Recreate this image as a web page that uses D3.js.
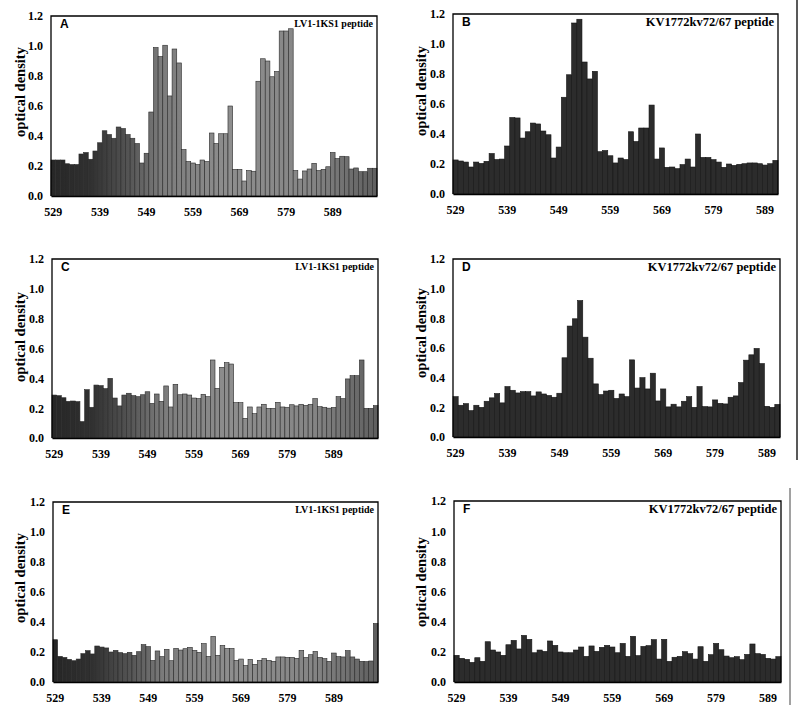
<!DOCTYPE html>
<html><head><meta charset="utf-8">
<script src="https://cdn.jsdelivr.net/npm/d3@7"></script>
<style>
html,body{margin:0;padding:0;background:#fff;}
svg{display:block;}
</style></head>
<body>
<svg id="chart" width="800" height="719"></svg>
<script>
// ---------------- data ----------------
const residuesLV = d3.range(529, 599);   // 70 peptides
const residuesKV = d3.range(529, 592);   // 63 peptides
const xTickLabels = [529, 539, 549, 559, 569, 579, 589];
const yTickValues = [0, 0.2, 0.4, 0.6, 0.8, 1.0, 1.2];

const valuesA = [0.24,0.24,0.24,0.215,0.21,0.21,0.28,0.29,0.245,0.30,
 0.355,0.435,0.41,0.385,0.46,0.45,0.41,0.385,0.35,0.22,
 0.285,0.56,0.99,0.93,1.005,0.667,0.98,0.887,0.31,0.23,
 0.22,0.21,0.24,0.23,0.42,0.35,0.415,0.415,0.60,0.178,
 0.178,0.10,0.17,0.165,0.765,0.915,0.90,0.795,0.83,1.10,
 1.10,1.115,0.17,0.113,0.167,0.18,0.218,0.17,0.178,0.195,
 0.29,0.25,0.265,0.262,0.18,0.187,0.162,0.162,0.185,0.185];

const valuesB = [0.227,0.22,0.213,0.18,0.213,0.204,0.218,0.27,0.23,0.233,
 0.32,0.51,0.507,0.373,0.415,0.473,0.467,0.42,0.395,0.24,
 0.313,0.645,0.795,1.14,1.165,0.88,0.767,0.818,0.282,
 0.29,0.255,0.207,0.24,0.23,0.415,0.35,0.44,0.44,0.593,0.233,0.307,0.178,0.18,0.169,0.196,0.233,0.18,0.40,
 0.244,0.244,0.229,0.213,0.178,0.20,0.191,0.198,0.202,0.207,0.207,0.202,0.193,0.202,0.224];

const valuesC = [0.288,0.284,0.27,0.246,0.248,0.244,0.11,0.324,0.206,0.355,
 0.351,0.331,0.40,0.268,0.215,0.288,0.30,0.284,0.277,0.29,
 0.31,0.232,0.295,0.246,0.349,0.208,0.36,0.29,0.295,0.288,
 0.268,0.264,0.293,0.277,0.523,
 0.333,0.474,0.505,0.496,0.237,0.237,0.132,0.208,0.163,0.208,0.226,0.199,0.199,0.239,0.208,0.206,0.223,0.215,0.226,0.219,
 0.226,0.264,0.21,0.206,0.20,0.205,0.277,0.264,0.396,0.418,0.418,0.523,0.199,0.199,0.217];

const valuesD = [0.272,0.214,0.225,0.178,0.214,0.20,0.241,0.264,0.293,0.23,
 0.34,0.315,0.297,0.306,0.306,0.277,0.304,0.29,0.28,0.268,
 0.295,0.534,0.748,0.797,0.92,0.673,0.531,0.358,0.286,
 0.31,0.315,0.26,0.29,0.272,0.52,0.33,0.40,0.324,0.43,0.243,0.324,0.203,0.221,0.203,0.241,0.272,0.20,0.34,
 0.205,0.203,0.25,0.227,0.223,0.268,0.277,0.367,0.518,0.554,0.597,0.495,0.207,0.20,0.22];

const valuesE = [0.282,0.171,0.164,0.151,0.142,0.153,0.189,0.209,0.187,0.24,
 0.233,0.227,0.20,0.211,0.196,0.189,0.198,0.178,0.202,0.249,
 0.236,0.144,0.207,0.169,0.218,0.142,0.224,0.213,0.222,0.231,
 0.211,0.198,0.256,0.171,0.304,
 0.178,0.244,0.224,0.224,0.144,0.153,0.11,0.151,0.118,0.144,0.156,0.144,0.138,0.167,0.167,0.164,0.164,0.158,
 0.211,0.164,0.182,0.204,0.164,0.156,0.138,0.193,0.169,0.167,0.209,0.167,0.153,0.138,0.136,0.14,0.39];

const valuesF = [0.177,0.157,0.15,0.13,0.161,0.137,0.267,0.212,0.199,0.177,
 0.247,0.276,0.219,0.309,0.283,0.194,0.212,0.203,0.272,0.243,
 0.199,0.194,0.194,0.212,0.232,0.17,0.239,0.203,0.23,
 0.243,0.232,0.194,0.256,0.17,0.303,0.175,0.236,0.241,0.281,0.152,0.283,0.137,0.164,0.17,0.201,0.188,0.152,0.234,
 0.137,0.181,0.256,0.214,0.172,0.161,0.168,0.148,0.183,0.252,0.188,0.183,0.157,0.152,0.168];

const titleLV = "LV1-1KS1  peptide";
const titleKV = "KV1772kv72/67  peptide";

// ---------------- layout ----------------
const panels = [
  {letter:"A", residues:residuesLV, values:valuesA, title:titleLV, kind:"LV", x0:51,  x1:377, yt:16,  yb:196, labY:92},
  {letter:"B", residues:residuesKV, values:valuesB, title:titleKV, kind:"KV", x0:453, x1:778, yt:14,  yb:194, labY:91},
  {letter:"C", residues:residuesLV, values:valuesC, title:titleLV, kind:"LV", x0:52,  x1:378, yt:259, yb:438, labY:337},
  {letter:"D", residues:residuesKV, values:valuesD, title:titleKV, kind:"KV", x0:453, x1:780, yt:259, yb:437, labY:333},
  {letter:"E", residues:residuesLV, values:valuesE, title:titleLV, kind:"LV", x0:53,  x1:378, yt:502, yb:682, labY:578},
  {letter:"F", residues:residuesKV, values:valuesF, title:titleKV, kind:"KV", x0:454, x1:781, yt:501, yb:682, labY:582}
];

const svg = d3.select("#chart");
const defs = svg.append("defs");
const serif = "'Liberation Serif','Times New Roman',serif";
const sans = "'Liberation Sans',Arial,sans-serif";

panels.forEach((p, i) => {
  const x = d3.scaleBand().domain(p.residues).range([p.x0, p.x1]).padding(0);
  const y = d3.scaleLinear().domain([0, 1.2]).range([p.yb, p.yt]);
  const g = svg.append("g");

  let fill = "#2c2c2c", stroke = "#141414";
  if (p.kind === "LV") {
    const gid = "grad" + i;
    const gr = defs.append("linearGradient").attr("id", gid)
      .attr("gradientUnits", "userSpaceOnUse")
      .attr("x1", p.x0).attr("x2", p.x1).attr("y1", 0).attr("y2", 0);
    [[0,"#262626"],[0.12,"#303030"],[0.24,"#555"],[0.34,"#7c7c7c"],[0.55,"#8e8e8e"],[0.8,"#858585"],[1,"#5e5e5e"]]
      .forEach(s => gr.append("stop").attr("offset", s[0]).attr("stop-color", s[1]));
    fill = `url(#${gid})`;
    stroke = "#2a2a2a";
  }

  // bars
  g.selectAll("rect.bar").data(p.values.map((v, k) => ({r: p.residues[k], v})))
    .join("rect").attr("class", "bar")
    .attr("x", d => x(d.r))
    .attr("width", x.bandwidth())
    .attr("y", d => y(d.v))
    .attr("height", d => y(0) - y(d.v))
    .attr("fill", fill)
    .attr("stroke", stroke)
    .attr("stroke-width", 0.6);

  // frame (left, top, right)
  g.append("path")
    .attr("d", `M${p.x0},${p.yb}V${p.yt}H${p.x1}V${p.yb}`)
    .attr("fill", "none").attr("stroke", "#000").attr("stroke-width", 1.3);

  // y axis
  const ya = g.append("g").attr("transform", `translate(${p.x0},0)`)
    .call(d3.axisLeft(y).tickValues(yTickValues).tickFormat(d3.format(".1f")).tickSize(0).tickPadding(8));
  ya.select(".domain").remove();
  ya.selectAll("text").attr("font-family", serif).attr("font-weight", "bold").attr("font-size", 12).attr("fill", "#000");

  // x axis
  const xa = g.append("g").attr("transform", `translate(0,${p.yb})`)
    .call(d3.axisBottom(x).tickValues(xTickLabels).tickSize(0).tickPadding(11));
  xa.select(".domain").attr("stroke", "#000").attr("stroke-width", 1.3);
  xa.selectAll("text").attr("font-family", serif).attr("font-weight", "bold").attr("font-size", 12).attr("fill", "#000");

  // axis title
  const lx = p.kind === "LV" ? 20 : 421;
  g.append("text")
    .attr("transform", `translate(${lx},${p.labY}) rotate(-90)`)
    .attr("text-anchor", "middle").attr("dominant-baseline", "central")
    .attr("font-family", serif).attr("font-weight", "bold").attr("font-size", 14.5)
    .text("optical density");

  // panel letter
  g.append("text").attr("x", p.x0 + 9).attr("y", p.yt + 12)
    .attr("font-family", sans).attr("font-weight", "bold").attr("font-size", 12)
    .text(p.letter);

  // peptide title
  g.append("text").attr("x", p.x1 - 4).attr("y", p.yt + (p.kind === "LV" ? 10.5 : 11.5))
    .attr("text-anchor", "end")
    .attr("font-family", serif).attr("font-weight", "bold")
    .attr("font-size", p.kind === "LV" ? 10 : 12.5)
    .text(p.title);
});

// scan edge line at right
svg.append("line").attr("x1", 797).attr("x2", 797).attr("y1", 0).attr("y2", 460)
  .attr("stroke", "#222").attr("stroke-width", 1.5);
svg.append("line").attr("x1", 790).attr("x2", 790).attr("y1", 488).attr("y2", 705)
  .attr("stroke", "#444").attr("stroke-width", 1);
</script>
</body></html>
